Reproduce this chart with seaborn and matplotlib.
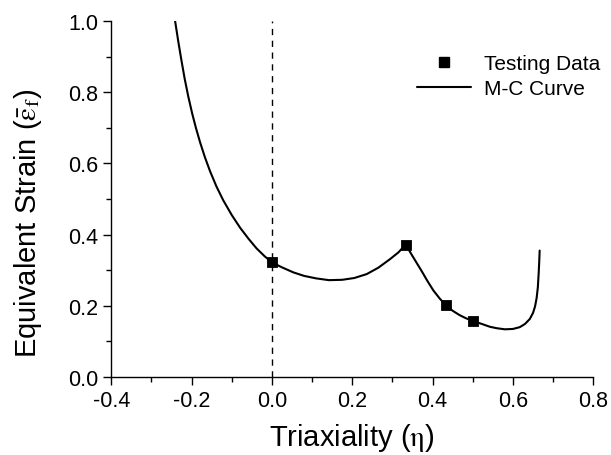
"""
Mohr-Coulomb fracture locus vs. testing data
"""
import pandas as pd
import seaborn as sns
import matplotlib.pyplot as plt
from matplotlib.lines import Line2D
from matplotlib.ticker import MultipleLocator

# testing data points
test_eta = [0.0, 0.333, 0.433, 0.5]
test_strain = [0.322, 0.372, 0.202, 0.158]

# M-C curve
mc_eta = [-0.241, -0.233, -0.225, -0.217, -0.208, -0.198, -0.189, -0.179, -0.167,
          -0.154, -0.138, -0.121, -0.100, -0.079, -0.058, -0.038, -0.018,
          0.0, 0.025, 0.053, 0.080, 0.110, 0.142, 0.175, 0.205, 0.236, 0.265,
          0.294, 0.315, 0.333, 0.345, 0.359, 0.372, 0.387, 0.402, 0.418, 0.433,
          0.450, 0.467, 0.483, 0.500, 0.520, 0.543, 0.560, 0.580, 0.600, 0.617,
          0.630, 0.642, 0.650, 0.655, 0.659, 0.662, 0.664, 0.6655, 0.6665]
mc_strain = [1.000, 0.942, 0.888, 0.837, 0.787, 0.738, 0.699, 0.660, 0.618,
             0.578, 0.535, 0.496, 0.455, 0.419, 0.388, 0.361, 0.339,
             0.322, 0.308, 0.294, 0.284, 0.277, 0.272, 0.273, 0.278, 0.289, 0.307,
             0.331, 0.350, 0.372, 0.349, 0.323, 0.299, 0.270, 0.243, 0.220, 0.202,
             0.186, 0.174, 0.165, 0.158, 0.150, 0.141, 0.137, 0.134, 0.135, 0.140,
             0.149, 0.163, 0.180, 0.198, 0.222, 0.252, 0.290, 0.325, 0.355]

sns.set_theme(style="ticks")
plt.rcParams['font.family'] = ['Liberation Sans', 'DejaVu Sans']
plt.rcParams['mathtext.fontset'] = 'stix'
plt.rcParams['text.color'] = 'black'
plt.rcParams['axes.labelcolor'] = 'black'

fig = plt.figure(figsize=(6.11, 4.56), dpi=100)
ax = fig.add_axes([0.182, 0.171, 0.789, 0.781])

curve = pd.DataFrame({'eta': mc_eta, 'strain': mc_strain})
tests = pd.DataFrame({'eta': test_eta, 'strain': test_strain})

ax.axvline(0, color='black', ls=(0, (4.5, 4)), lw=1.0)
sns.lineplot(data=curve, x='eta', y='strain', sort=False, color='black', lw=1.5, ax=ax)
sns.scatterplot(data=tests, x='eta', y='strain', marker='s', s=55, color='black',
                edgecolor='black', zorder=5, ax=ax)

ax.set_xlim(-0.4, 0.8)
ax.set_ylim(0, 1.0)
ax.xaxis.set_major_locator(MultipleLocator(0.2))
ax.xaxis.set_minor_locator(MultipleLocator(0.1))
ax.yaxis.set_major_locator(MultipleLocator(0.2))
ax.yaxis.set_minor_locator(MultipleLocator(0.1))
ax.set_xticklabels([f'{v:.1f}' for v in ax.get_xticks()])
ax.set_yticklabels([f'{v:.1f}' for v in ax.get_yticks()])
ax.tick_params(which='major', direction='out', length=6, width=1, labelsize=15.5, colors='black')
ax.tick_params(which='minor', direction='out', length=3.5, width=1, colors='black')
for s in ['left', 'bottom']:
    ax.spines[s].set_color('black')
    ax.spines[s].set_linewidth(1)
sns.despine(ax=ax)

ax.set_xlabel(r'Triaxiality ($\mathrm{\eta}$)', fontsize=21, labelpad=7)
ax.set_ylabel(r'Equivalent Strain ($\bar{\mathrm{\varepsilon}}_\mathrm{f}$)', fontsize=21)
ax.yaxis.set_label_coords(-0.14, 0.435)

handles = [Line2D([], [], marker='s', ls='none', color='black', markersize=7.5),
           Line2D([], [], color='black', lw=1.5)]
ax.legend(handles, ['Testing Data', 'M-C Curve'], loc='upper left', frameon=False,
          fontsize=15, bbox_to_anchor=(0.635, 0.907), borderaxespad=0, borderpad=0,
          handlelength=2.6, labelspacing=0.3, handletextpad=0.58)

fig.savefig('out.png', dpi=100)
